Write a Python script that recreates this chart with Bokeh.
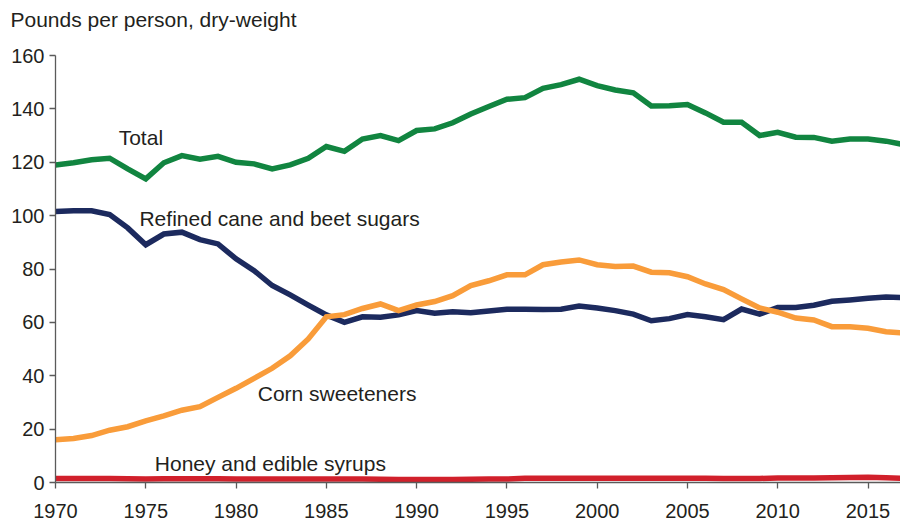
from bokeh.plotting import figure
from bokeh.models import Range1d, FixedTicker, ColumnDataSource, Title
from bokeh.core.properties import value
from bokeh.embed import file_html
from bokeh.resources import INLINE

years = list(range(1970, 2018))

total = [119.0, 119.8, 120.9, 121.5, 117.5, 113.8, 119.8, 122.5, 121.1, 122.2,
         120.0, 119.4, 117.5, 119.0, 121.5, 125.9, 124.1, 128.7, 130.0, 128.1,
         131.9, 132.5, 134.8, 138.1, 140.9, 143.6, 144.2, 147.7, 149.1, 151.1,
         148.7, 147.1, 146.0, 141.1, 141.2, 141.6, 138.5, 135.0, 135.0, 130.0,
         131.2, 129.4, 129.3, 127.9, 128.7, 128.7, 127.9, 126.6]

refined = [101.5, 101.8, 101.8, 100.4, 95.4, 89.1, 93.1, 93.8, 91.0, 89.4,
           83.8, 79.4, 73.8, 70.3, 66.5, 62.8, 60.0, 62.1, 61.9, 62.8,
           64.4, 63.4, 64.0, 63.6, 64.3, 64.9, 64.9, 64.8, 64.9, 66.1,
           65.4, 64.4, 63.1, 60.6, 61.4, 62.9, 62.1, 61.0, 65.0, 63.1,
           65.6, 65.6, 66.4, 67.9, 68.4, 69.0, 69.5, 69.3]

corn = [16.0, 16.5, 17.6, 19.6, 20.9, 23.1, 25.0, 27.1, 28.4, 31.9,
        35.3, 39.0, 42.8, 47.5, 53.8, 62.1, 62.9, 65.2, 66.9, 64.4,
        66.5, 67.8, 70.0, 73.8, 75.6, 77.8, 77.8, 81.6, 82.6, 83.4,
        81.6, 80.9, 81.1, 78.8, 78.6, 77.1, 74.4, 72.3, 68.8, 65.4,
        63.8, 61.6, 60.9, 58.4, 58.4, 57.8, 56.5, 56.0]

honey = [1.5, 1.5, 1.5, 1.5, 1.4, 1.3, 1.4, 1.4, 1.4, 1.4,
         1.3, 1.3, 1.3, 1.3, 1.3, 1.3, 1.3, 1.3, 1.2, 1.1,
         1.1, 1.1, 1.1, 1.2, 1.3, 1.3, 1.6, 1.6, 1.6, 1.6,
         1.6, 1.6, 1.6, 1.6, 1.6, 1.6, 1.6, 1.5, 1.5, 1.5,
         1.7, 1.7, 1.7, 1.8, 1.9, 2.0, 1.8, 1.5]

x_ticks = [1970, 1975, 1980, 1985, 1990, 1995, 2000, 2005, 2010, 2015]
y_ticks = [0, 20, 40, 60, 80, 100, 120, 140, 160]

series_names = ["Total", "Refined cane and beet sugars", "Corn sweeteners", "Honey and edible syrups"]
series_colors = ["#118540", "#1c2a5e", "#f99c3a", "#d1202b"]
y_title = "Pounds per person, dry-weight"

FONT = "Liberation Sans"
TEXT = "#231f20"
AXIS = "#5a5a5a"

p = figure(width=900, height=523, output_backend="svg", toolbar_location=None,
           x_range=Range1d(1970, 2016.8), y_range=Range1d(0, 160),
           min_border_left=55, min_border_right=0, min_border_top=55, min_border_bottom=41)

p.outline_line_color = None
p.xgrid.grid_line_color = None
p.ygrid.grid_line_color = None
p.background_fill_color = "white"

# real heading as the figure title
p.title.text = y_title
p.title.text_font = FONT
p.title.text_font_size = "21px"
p.title.text_font_style = "normal"
p.title.text_color = TEXT
p.title.align = "left"
p.title.offset = -45
p.title.vertical_align = "top"
p.title.standoff = 0

# spacer title, appended so it sits next to the frame and lifts the heading
p.add_layout(Title(text=" ", text_font=FONT, text_font_size="10px", standoff=10), "above")

src = ColumnDataSource(dict(x=years, total=total, refined=refined, corn=corn, honey=honey))
for col, color in zip(["total", "refined", "corn", "honey"], series_colors):
    p.line("x", col, source=src, line_color=color, line_width=5.5, line_join="miter")

for ax in (p.xaxis[0], p.yaxis[0]):
    ax.axis_line_color = AXIS
    ax.axis_line_width = 1.3
    ax.major_tick_line_color = AXIS
    ax.major_tick_line_width = 1.3
    ax.major_tick_in = 0
    ax.major_tick_out = 6
    ax.minor_tick_line_color = None
    ax.major_label_text_font = FONT
    ax.major_label_text_font_size = "20px"
    ax.major_label_text_color = TEXT

p.xaxis[0].ticker = FixedTicker(ticks=x_ticks)
p.yaxis[0].ticker = FixedTicker(ticks=y_ticks)
p.xaxis[0].major_label_standoff = 15
p.yaxis[0].major_label_standoff = 5

label_x = [1973.5, 1974.65, 1981.2, 1975.5]
label_y = [129.3, 99.0, 33.3, 7.0]
lsrc = ColumnDataSource(dict(x=label_x, y=label_y, t=series_names))
p.text("x", "y", text="t", source=lsrc, text_font=value(FONT), text_font_size="21px",
       text_color=TEXT, text_baseline="middle", text_align="left")

open("out.html", "w").write(file_html(p, INLINE))
